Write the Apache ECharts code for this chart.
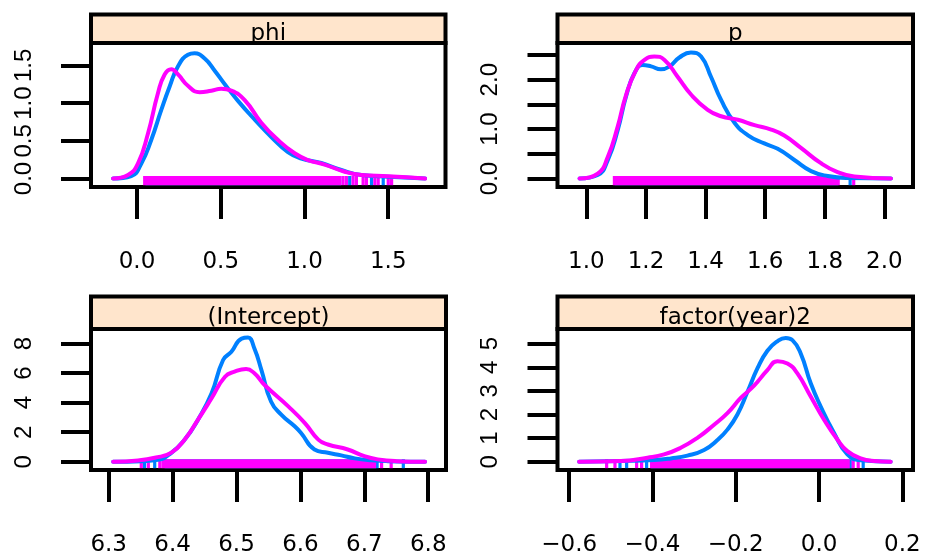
<!DOCTYPE html>
<html><head><meta charset="utf-8">
<script src="https://cdn.jsdelivr.net/npm/echarts@6/dist/echarts.min.js"></script>
<style>html,body{margin:0;padding:0;background:#fff}#chart{width:925px;height:557px}</style>
</head><body><div id="chart"></div>
<script>
// ---- panel titles ----
const panelTitles = ['phi', 'p', '(Intercept)', 'factor(year)2'];

// ---- density curves [x, density] ----
const phiBlue = [[-0.143,0],[-0.034,0.033],[0.026,0.20],[0.085,0.51],[0.145,0.91],[0.195,1.22],[0.245,1.49],[0.304,1.64],[0.344,1.66],[0.404,1.59],[0.464,1.43],[0.524,1.25],[0.603,1.03],[0.703,0.78],[0.802,0.55],[0.901,0.35],[0.981,0.265],[1.10,0.205],[1.22,0.113],[1.34,0.046],[1.50,0.024],[1.72,0]];
const phiMagenta = [[-0.143,0],[-0.054,0.046],[0.006,0.20],[0.066,0.60],[0.125,1.13],[0.165,1.38],[0.205,1.45],[0.245,1.38],[0.304,1.23],[0.374,1.145],[0.444,1.165],[0.503,1.19],[0.563,1.165],[0.643,1.04],[0.742,0.74],[0.842,0.51],[0.941,0.335],[1.021,0.245],[1.12,0.185],[1.24,0.09],[1.34,0.046],[1.50,0.03],[1.72,0]];
const pBlue = [[0.977,0],[1.038,0.07],[1.072,0.375],[1.105,0.98],[1.133,1.66],[1.161,2.13],[1.189,2.30],[1.217,2.27],[1.25,2.21],[1.279,2.27],[1.312,2.45],[1.351,2.55],[1.385,2.47],[1.418,2.06],[1.452,1.59],[1.497,1.13],[1.541,0.88],[1.597,0.71],[1.642,0.6],[1.698,0.375],[1.754,0.15],[1.81,0.05],[1.877,0.01],[2.022,0]];
const pMagenta = [[0.977,0],[1.038,0.10],[1.072,0.44],[1.105,1.05],[1.133,1.69],[1.167,2.20],[1.195,2.40],[1.228,2.47],[1.262,2.40],[1.306,2.06],[1.351,1.70],[1.407,1.39],[1.452,1.26],[1.508,1.19],[1.564,1.08],[1.62,0.99],[1.664,0.87],[1.72,0.62],[1.787,0.31],[1.843,0.13],[1.899,0.04],[2.022,0]];
const interceptBlue = [[6.307,0],[6.351,0.04],[6.377,0.13],[6.398,0.6],[6.419,1.5],[6.44,2.87],[6.461,4.64],[6.479,6.89],[6.492,7.45],[6.508,8.34],[6.518,8.41],[6.528,7.67],[6.539,6.21],[6.554,4.08],[6.57,3.19],[6.591,2.40],[6.601,1.95],[6.622,0.83],[6.643,0.61],[6.664,0.43],[6.685,0.23],[6.711,0.1],[6.737,0.04],[6.795,0]];
const interceptMagenta = [[6.307,0],[6.346,0.09],[6.372,0.27],[6.398,0.62],[6.419,1.51],[6.44,2.87],[6.461,4.3],[6.482,5.76],[6.497,6.10],[6.515,6.28],[6.528,5.99],[6.544,5.2],[6.581,3.75],[6.607,2.62],[6.628,1.5],[6.643,1.17],[6.674,0.83],[6.70,0.38],[6.721,0.16],[6.75,0.04],[6.795,0]];
const yearBlue = [[-0.576,0],[-0.476,0.03],[-0.396,0.07],[-0.356,0.14],[-0.316,0.26],[-0.276,0.5],[-0.244,0.92],[-0.22,1.36],[-0.196,2.0],[-0.172,2.95],[-0.148,3.95],[-0.124,4.7],[-0.1,5.1],[-0.08,5.24],[-0.064,5.15],[-0.044,4.58],[-0.02,3.32],[0.004,2.34],[0.036,1.22],[0.068,0.31],[0.1,0.06],[0.172,0]];
const yearMagenta = [[-0.576,0],[-0.476,0.03],[-0.412,0.17],[-0.372,0.31],[-0.332,0.59],[-0.292,1.01],[-0.252,1.57],[-0.22,2.06],[-0.188,2.70],[-0.156,3.22],[-0.124,3.88],[-0.1,4.26],[-0.076,4.16],[-0.052,3.74],[-0.02,2.76],[0.012,1.78],[0.044,0.94],[0.068,0.45],[0.1,0.14],[0.132,0.03],[0.172,0]];

// ---- rug marks: dense bands [from, to] and single marks ----
const phiRugBandBlue = [[0.06, 1.21]];
const phiRugBandMagenta = [[0.046, 1.21]];
const phiRugBlue = [1.27, 1.40, 1.47];
const phiRugMagenta = [1.23, 1.25, 1.29, 1.31, 1.35, 1.37, 1.42, 1.44, 1.50, 1.52];
const pRugBandBlue = [[1.10, 1.84]];
const pRugBandMagenta = [[1.094, 1.845]];
const pRugBlue = [1.885];
const pRugMagenta = [1.897];
const interceptRugBandBlue = [[6.39, 6.72]];
const interceptRugBandMagenta = [[6.385, 6.716]];
const interceptRugBlue = [6.356, 6.372, 6.761];
const interceptRugMagenta = [6.351, 6.362, 6.38, 6.727, 6.742];
const yearRugBandBlue = [[-0.40, 0.075]];
const yearRugBandMagenta = [[-0.402, 0.07]];
const yearRugBlue = [-0.478, -0.462, -0.414, 0.106];
const yearRugMagenta = [-0.51, -0.49, -0.438, -0.426, 0.082, 0.094];

// ---- ticks ----
const phiXTicks = [0, 0.5, 1.0, 1.5];
const phiYTicks = [0, 0.5, 1.0, 1.5];
const phiYLabels = [0, 0.5, 1.0, 1.5];
const pXTicks = [1.0, 1.2, 1.4, 1.6, 1.8, 2.0];
const pYTicks = [0, 0.5, 1.0, 1.5, 2.0, 2.5];
const pYLabels = [0, 1.0, 2.0];
const interceptXTicks = [6.3, 6.4, 6.5, 6.6, 6.7, 6.8];
const interceptYTicks = [0, 2, 4, 6, 8];
const interceptYLabels = [0, 2, 4, 6, 8];
const yearXTicks = [-0.6, -0.4, -0.2, 0.0, 0.2];
const yearYTicks = [0, 1, 2, 3, 4, 5];
const yearYLabels = [0, 1, 2, 3, 4, 5];

const BLUE = '#0080ff', MAGENTA = '#ff00ff';

const panels = [
  {curves:[phiBlue, phiMagenta], bands:[phiRugBandBlue, phiRugBandMagenta], rugs:[phiRugBlue, phiRugMagenta], xT:phiXTicks, yT:phiYTicks, yL:phiYLabels, yDec:1,
   left:91, top:43, width:354.5, height:144, stripTop:14.5, xMin:-0.2746, xMax:1.8418, yMin:-0.1127, yMax:1.797},
  {curves:[pBlue, pMagenta], bands:[pRugBandBlue, pRugBandMagenta], rugs:[pRugBlue, pRugMagenta], xT:pXTicks, yT:pYTicks, yL:pYLabels, yDec:1,
   left:557.5, top:43, width:355.5, height:144, stripTop:14.5, xMin:0.903, xMax:2.096, yMin:-0.172, yMax:2.743},
  {curves:[interceptBlue, interceptMagenta], bands:[interceptRugBandBlue, interceptRugBandMagenta], rugs:[interceptRugBlue, interceptRugMagenta], xT:interceptXTicks, yT:interceptYTicks, yL:interceptYLabels, yDec:0,
   left:91, top:329, width:355, height:142, stripTop:296.5, xMin:6.2723, xMax:6.8278, yMin:-0.558, yMax:8.99},
  {curves:[yearBlue, yearMagenta], bands:[yearRugBandBlue, yearRugBandMagenta], rugs:[yearRugBlue, yearRugMagenta], xT:yearXTicks, yT:yearYTicks, yL:yearYLabels, yDec:0,
   left:557.5, top:329, width:355.5, height:142, stripTop:296.5, xMin:-0.628, xMax:0.2256, yMin:-0.349, yMax:5.62}
];

const fmt = (v, d) => v.toFixed(d).replace('-', '\u2212');
const LW = 4;

const grid = [], xAxis = [], yAxis = [], series = [], graphic = [];
panels.forEach((P, i) => {
  grid.push({left:P.left, top:P.top, width:P.width, height:P.height, show:true, borderColor:'#000', borderWidth:LW, backgroundColor:'transparent', containLabel:false});
  xAxis.push({type:'value', gridIndex:i, min:P.xMin, max:P.xMax, position:'bottom',
    axisLine:{show:false, onZero:false}, splitLine:{show:false},
    axisTick:{show:true, inside:false, length:32, customValues:P.xT, lineStyle:{color:'#000', width:LW}},
    axisLabel:{show:true, customValues:P.xT, margin:64, formatter:v=>fmt(v,1), color:'#000', fontFamily:'DejaVu Sans', fontSize:23}});
  yAxis.push({type:'value', gridIndex:i, min:P.yMin, max:P.yMax, position:'left',
    axisLine:{show:false, onZero:false}, splitLine:{show:false},
    axisTick:{show:true, inside:false, length:30, customValues:P.yT, lineStyle:{color:'#000', width:LW}},
    axisLabel:{show:true, customValues:P.yL, rotate:90, margin:55, formatter:v=>fmt(v,P.yDec), color:'#000', fontFamily:'Liberation Sans', fontSize:24}});
  const colors = [BLUE, MAGENTA];
  [0,1].forEach(k => {
    const data = P.bands[k].map(b => [b[0], b[1]]).concat(P.rugs[k].map(t => [t, t]));
    series.push({type:'custom', xAxisIndex:i, yAxisIndex:i, data, z:2, silent:true,
      encode:{x:[0,1]},
      renderItem:(params, api) => {
        const a = api.coord([api.value(0), 0]);
        const b = api.coord([api.value(1), 0]);
        const cs = params.coordSys;
        const bottom = cs.y + cs.height - 1.8;
        const top = a[1] - 2.5;
        return {type:'rect', shape:{x:a[0]-1.6, y:top, width:b[0]-a[0]+3.2, height:bottom-top}, style:{fill:colors[k]}};
      }});
  });
  [0,1].forEach(k => {
    series.push({type:'line', xAxisIndex:i, yAxisIndex:i, data:P.curves[k], symbol:'none', showSymbol:false,
      smooth:0.5, z:3+k, silent:true,
      lineStyle:{color:colors[k], width:LW, cap:'round', join:'round'}, itemStyle:{color:colors[k]}});
  });
  graphic.push({type:'rect', z:10, shape:{x:P.left, y:P.stripTop, width:P.width, height:P.top-P.stripTop},
    style:{fill:'#ffe5cc', stroke:'#000', lineWidth:LW}});
  graphic.push({type:'text', z:11, x:P.left + P.width/2, y:(P.stripTop + P.top)/2 + 5.5,
    style:{text:panelTitles[i], fill:'#000', font:'23px "DejaVu Sans"', align:'center', verticalAlign:'middle'}});
});

const chart = echarts.init(document.getElementById('chart'), null, {renderer:'canvas'});
chart.setOption({animation:false, backgroundColor:'#fff', grid, xAxis, yAxis, series, graphic});
</script>
</body></html>
